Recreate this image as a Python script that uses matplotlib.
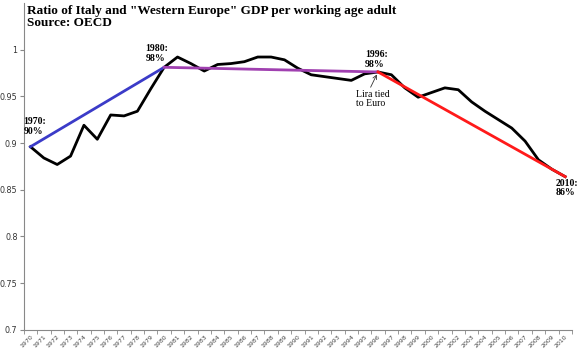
import numpy as np
import matplotlib
matplotlib.use('Agg')
import matplotlib.pyplot as plt

years = list(range(1970, 2011))
ratio = [0.896, 0.884, 0.877, 0.886, 0.919, 0.904, 0.930, 0.929, 0.934, 0.958,
         0.981, 0.992, 0.985, 0.977, 0.984, 0.985, 0.987, 0.992, 0.992, 0.989,
         0.980, 0.973, 0.971, 0.969, 0.967, 0.974, 0.976, 0.973, 0.959, 0.949,
         0.954, 0.959, 0.957, 0.944, 0.934, 0.925, 0.916, 0.902, 0.882, 0.872,
         0.864]

# trend segments: (start year, end year, colour)
trends = [(1970, 1980, '#3b3bc8'), (1980, 1996, '#a040b0'), (1996, 2010, '#ff1a1a')]

labels = [(1970, '1970:\n90%'), (1980, '1980:\n98%'), (1996, '1996:\n98%'), (2010, '2010:\n86%')]

fig = plt.figure(figsize=(5.8, 3.51), dpi=100)
ax = fig.add_axes([0.041, 0.06, 0.945, 0.932])

x = np.arange(len(years))
ax.plot(x, ratio, color='black', lw=2, zorder=3)

for y0, y1, c in trends:
    i0, i1 = years.index(y0), years.index(y1)
    ax.plot([i0, i1], [ratio[i0], ratio[i1]], color=c, lw=2, zorder=4)

serif = 'Liberation Serif'
# offsets in points from the data point
offsets = {1970: (-5, 8), 1980: (-13.5, 3), 1996: (-9.5, 2), 2010: (-7, -1.5)}
for yr, txt in labels:
    i = years.index(yr)
    dx, dy = offsets[yr]
    va = 'top' if dy < 0 else 'bottom'
    ax.annotate(txt, (i, ratio[i]), xytext=(dx, dy), textcoords='offset points',
                fontsize=7, fontweight='bold', family=serif, ha='left', va=va,
                linespacing=1.1, zorder=5)

i96 = years.index(1996)
ax.annotate('Lira tied\nto Euro', (i96, ratio[i96]), xytext=(-16, -13),
            textcoords='offset points', fontsize=7, family=serif,
            ha='left', va='top', linespacing=0.95,
            arrowprops=dict(arrowstyle='->', color='#333333', lw=0.6,
                            shrinkA=0, shrinkB=2, relpos=(0.4, 1.0)))

fig.text(0.047, 0.985, 'Ratio of Italy and "Western Europe" GDP per working age adult\nSource: OECD',
         family=serif, fontweight='bold', fontsize=9.5, ha='left', va='top', linespacing=1.0)

ax.set_xlim(-0.5, len(years) - 0.5)
ax.set_ylim(0.7, 1.05)
ax.set_yticks(np.arange(0.7, 1.001, 0.05))
ax.set_yticklabels(['0.7', '0.75', '0.8', '0.85', '0.9', '0.95', '1'])
ax.set_xticks(x)
ax.set_xticklabels([str(y) for y in years], rotation=45, ha='right', rotation_mode='anchor')
ax.set_xticks(np.arange(-0.5, len(years), 1), minor=True)

ax.tick_params(axis='y', labelsize=5.8, colors='#888888', labelcolor='#333333', length=3, pad=1.5)
ax.tick_params(axis='x', which='major', labelsize=4.5, labelcolor='#444444', length=0, pad=3)
ax.tick_params(axis='x', which='minor', length=3, colors='#888888')

for s in ['top', 'right']:
    ax.spines[s].set_visible(False)
for s in ['left', 'bottom']:
    ax.spines[s].set_color('#888888')
    ax.spines[s].set_linewidth(0.8)

fig.savefig('out.png', dpi=100)
